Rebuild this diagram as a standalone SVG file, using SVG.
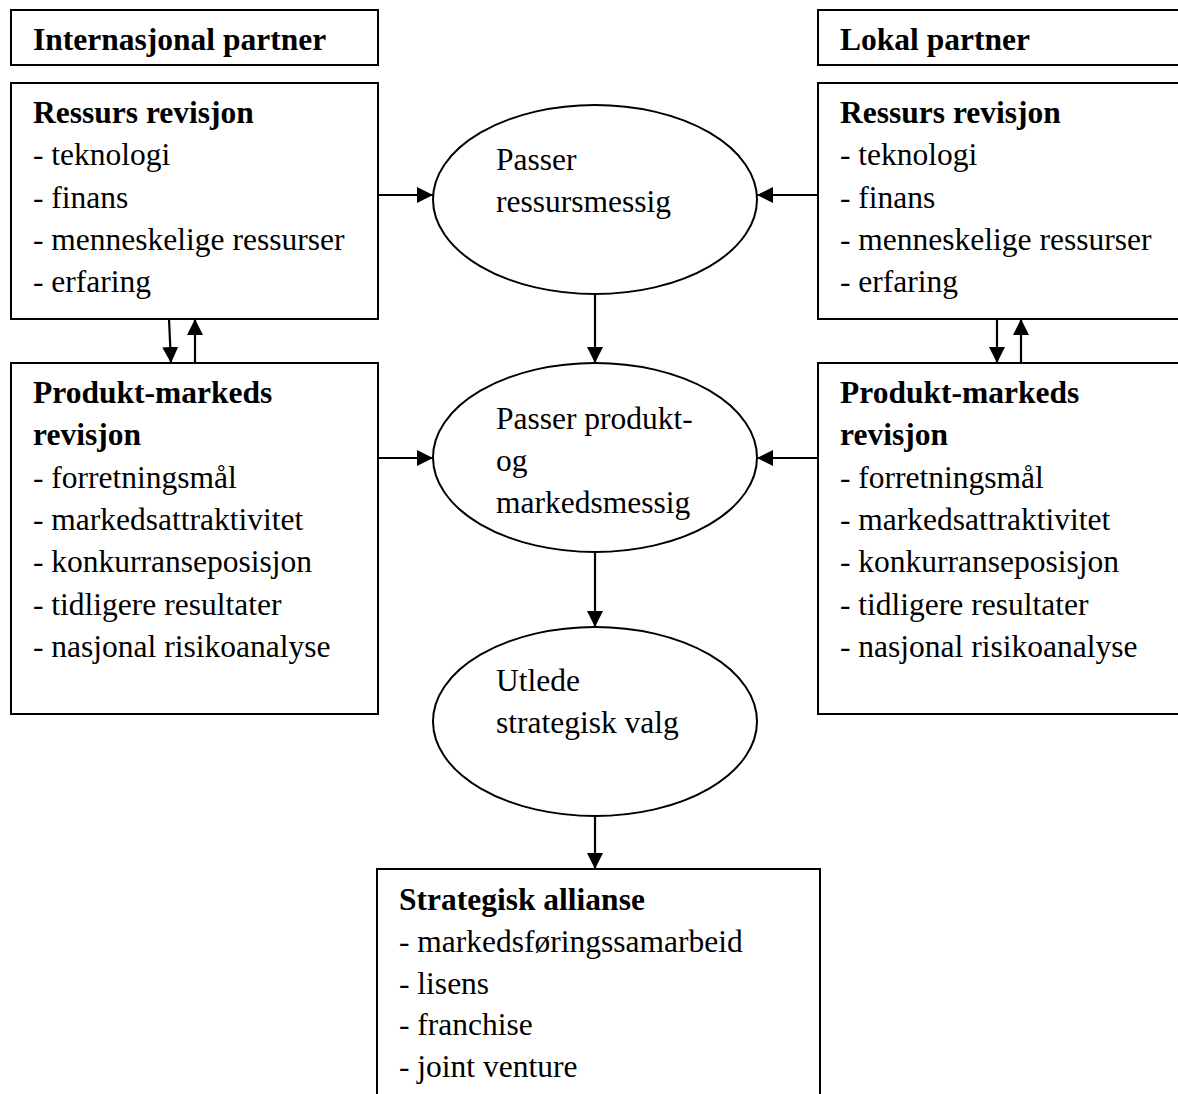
<svg xmlns="http://www.w3.org/2000/svg" width="1178" height="1094" viewBox="0 0 1178 1094">
  <style>
    .box { fill: #fff; stroke: #000; stroke-width: 2; }
    .oval { fill: #fff; stroke: #000; stroke-width: 2; }
    .t { font-family: "Liberation Serif", "Times New Roman", serif; font-size: 31.5px; fill: #000; }
    .b { font-weight: bold; }
    .edge { stroke: #000; stroke-width: 2.2; fill: none; marker-end: url(#arrow); }
  </style>
  <defs>
    <marker id="arrow" markerUnits="userSpaceOnUse" viewBox="0 0 16 16" refX="16" refY="8" markerWidth="16" markerHeight="16" orient="auto">
      <path d="M0,0 L16,8 L0,16 Z" fill="#000"/>
    </marker>
  </defs>
  <rect width="1178" height="1094" fill="#fff"/>

  <!-- left column: international partner -->
  <g id="hdr-int">
    <rect class="box" x="11" y="10" width="367" height="55"/>
    <text class="t b" x="33" y="50">Internasjonal partner</text>
  </g>
  <g id="res-int">
    <rect class="box" x="11" y="83" width="367" height="236"/>
    <text class="t" x="33" y="123"><tspan class="b">Ressurs revisjon</tspan><tspan x="33" dy="42.3">- teknologi</tspan><tspan x="33" dy="42.3">- finans</tspan><tspan x="33" dy="42.3">- menneskelige ressurser</tspan><tspan x="33" dy="42.3">- erfaring</tspan></text>
  </g>
  <g id="pm-int">
    <rect class="box" x="11" y="363" width="367" height="351"/>
    <text class="t" x="33" y="403"><tspan class="b">Produkt-markeds</tspan><tspan x="33" dy="42.3" class="b">revisjon</tspan><tspan x="33" dy="42.3">- forretningsmål</tspan><tspan x="33" dy="42.3">- markedsattraktivitet</tspan><tspan x="33" dy="42.3">- konkurranseposisjon</tspan><tspan x="33" dy="42.3">- tidligere resultater</tspan><tspan x="33" dy="42.3">- nasjonal risikoanalyse</tspan></text>
  </g>

  <!-- right column: local partner -->
  <g id="hdr-lok">
    <rect class="box" x="818" y="10" width="380" height="55"/>
    <text class="t b" x="840" y="50">Lokal partner</text>
  </g>
  <g id="res-lok">
    <rect class="box" x="818" y="83" width="380" height="236"/>
    <text class="t" x="840" y="123"><tspan class="b">Ressurs revisjon</tspan><tspan x="840" dy="42.3">- teknologi</tspan><tspan x="840" dy="42.3">- finans</tspan><tspan x="840" dy="42.3">- menneskelige ressurser</tspan><tspan x="840" dy="42.3">- erfaring</tspan></text>
  </g>
  <g id="pm-lok">
    <rect class="box" x="818" y="363" width="380" height="351"/>
    <text class="t" x="840" y="403"><tspan class="b">Produkt-markeds</tspan><tspan x="840" dy="42.3" class="b">revisjon</tspan><tspan x="840" dy="42.3">- forretningsmål</tspan><tspan x="840" dy="42.3">- markedsattraktivitet</tspan><tspan x="840" dy="42.3">- konkurranseposisjon</tspan><tspan x="840" dy="42.3">- tidligere resultater</tspan><tspan x="840" dy="42.3">- nasjonal risikoanalyse</tspan></text>
  </g>

  <!-- centre column -->
  <g id="fit-res">
    <ellipse class="oval" cx="595" cy="199.5" rx="162" ry="94.5"/>
    <text class="t" x="496" y="170">Passer<tspan x="496" dy="42">ressursmessig</tspan></text>
  </g>
  <g id="fit-pm">
    <ellipse class="oval" cx="595" cy="457.5" rx="162" ry="94.5"/>
    <text class="t" x="496" y="429">Passer produkt-<tspan x="496" dy="42">og</tspan><tspan x="496" dy="42">markedsmessig</tspan></text>
  </g>
  <g id="choice">
    <ellipse class="oval" cx="595" cy="721.5" rx="162" ry="94.5"/>
    <text class="t" x="496" y="691">Utlede<tspan x="496" dy="42">strategisk valg</tspan></text>
  </g>
  <g id="alliance">
    <rect class="box" x="377" y="869" width="443" height="240"/>
    <text class="t" x="399" y="910"><tspan class="b">Strategisk allianse</tspan><tspan x="399" dy="41.8">- markedsføringssamarbeid</tspan><tspan x="399" dy="41.8">- lisens</tspan><tspan x="399" dy="41.8">- franchise</tspan><tspan x="399" dy="41.8">- joint venture</tspan></text>
  </g>

  <!-- connectors -->
  <g id="connectors">
    <line class="edge" x1="378" y1="195" x2="433" y2="195"/>
    <line class="edge" x1="818" y1="195" x2="757" y2="195"/>
    <line class="edge" x1="378" y1="458" x2="433" y2="458"/>
    <line class="edge" x1="818" y1="458" x2="757" y2="458"/>
    <line class="edge" x1="595" y1="294" x2="595" y2="363"/>
    <line class="edge" x1="595" y1="552" x2="595" y2="627"/>
    <line class="edge" x1="595" y1="816" x2="595" y2="869"/>
    <line class="edge" x1="169" y1="319" x2="171" y2="363"/>
    <line class="edge" x1="195" y1="363" x2="195" y2="319"/>
    <line class="edge" x1="997" y1="319" x2="997" y2="363"/>
    <line class="edge" x1="1021" y1="363" x2="1021" y2="319"/>
  </g>
</svg>
